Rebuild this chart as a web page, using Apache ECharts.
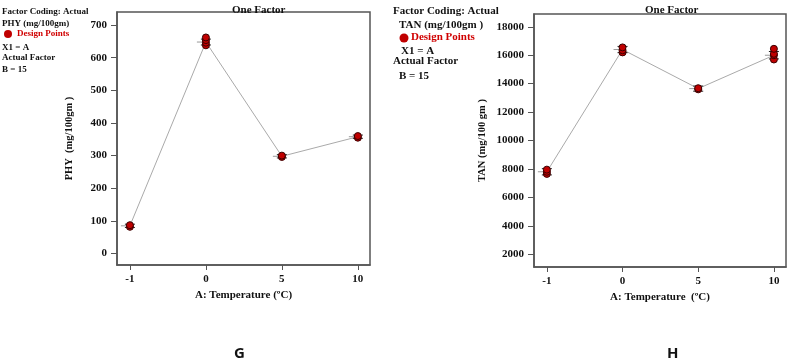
<!DOCTYPE html>
<html>
<head>
<meta charset="utf-8">
<script src="https://cdn.jsdelivr.net/npm/echarts@6/dist/echarts.min.js"></script>
<style>
  html, body { margin: 0; padding: 0; background: #fff; }
  #chart { width: 789px; height: 362px; }
</style>
</head>
<body>
<div id="chart"></div>
<script>
// categories on the x axis (temperature levels)
var categories = ['-1', '0', '5', '10'];

// PHY (mg/100gm) — means, LSD half widths and design points per level
var phyMean = [85, 648, 298, 358];
var phyErr = [5, 9, 5, 5];
var phyPoints = [[82, 87], [638, 646, 654, 662], [296, 300], [355, 360]];
var phyTicks = [0, 100, 200, 300, 400, 500, 600, 700];

// TAN (mg/100 gm) — means, LSD half widths and design points per level
var tanMean = [7800, 16400, 13650, 16000];
var tanErr = [220, 220, 180, 260];
var tanPoints = [[7650, 7800, 7950], [16200, 16350, 16550], [13600, 13680], [15700, 16000, 16100, 16450]];
var tanTicks = [2000, 4000, 6000, 8000, 10000, 12000, 14000, 16000, 18000];

var SERIF = '"Liberation Serif", "DejaVu Serif", serif';
var xIdx = categories.map(function (c, i) { return i; });

function pts(arr) {
    var out = [];
    arr.forEach(function (vals, i) {
        vals.forEach(function (v) { out.push([i, v]); });
    });
    return out;
}
function bars(mean, err) {
    return mean.map(function (m, i) { return [i, m - err[i], m + err[i], m]; });
}
function lineData(mean) {
    return mean.map(function (m, i) { return [i, m]; });
}

function errBar(params, api) {
    var lo = api.coord([api.value(0), api.value(1)]);
    var hi = api.coord([api.value(0), api.value(2)]);
    var mid = api.coord([api.value(0), api.value(3)]);
    var w = 5;
    var st = { stroke: '#222', lineWidth: 1 };
    return {
        type: 'group',
        children: [
            { type: 'line', shape: { x1: lo[0], y1: lo[1], x2: hi[0], y2: hi[1] }, style: st },
            { type: 'line', shape: { x1: lo[0] - w, y1: lo[1], x2: lo[0] + w, y2: lo[1] }, style: st },
            { type: 'line', shape: { x1: hi[0] - w, y1: hi[1], x2: hi[0] + w, y2: hi[1] }, style: st },
            { type: 'line', shape: { x1: mid[0] - w - 4, y1: mid[1], x2: mid[0] - 2, y2: mid[1] }, style: { stroke: '#999', lineWidth: 1 } }
        ]
    };
}

function xAxisCfg(gi) {
    return {
        gridIndex: gi,
        type: 'value',
        min: -0.17, max: 3.16,
        name: gi === 0 ? 'A: Temperature (ºC)' : 'A: Temperature  (ºC)',
        nameLocation: 'middle',
        nameGap: 25,
        nameTextStyle: { fontFamily: SERIF, fontWeight: 'bold', fontSize: 11, color: '#111' },
        axisLine: { onZero: false, lineStyle: { color: '#555', width: 1.5 } },
        axisTick: { show: true, length: 5, customValues: xIdx, lineStyle: { color: '#555' } },
        axisLabel: {
            customValues: xIdx, margin: 9,
            fontFamily: SERIF, fontWeight: 'bold', fontSize: 11, color: '#111',
            formatter: function (v) { return categories[Math.round(v)]; }
        },
        splitLine: { show: false }
    };
}

function yAxisCfg(gi, min, max, ticks, name, gap) {
    return {
        gridIndex: gi,
        type: 'value',
        min: min, max: max,
        name: name,
        nameLocation: 'middle',
        nameRotate: 90,
        nameGap: gap,
        nameTextStyle: { fontFamily: SERIF, fontWeight: 'bold', fontSize: 10.5, color: '#111' },
        axisLine: { show: true, onZero: false, lineStyle: { color: '#555', width: 1.5 } },
        axisTick: { show: true, length: 6, customValues: ticks, lineStyle: { color: '#555' } },
        axisLabel: {
            customValues: ticks, margin: 10, fontFamily: SERIF, fontWeight: 'bold', fontSize: 11, color: '#111',
            formatter: function (v) { return String(v); }
        },
        splitLine: { show: false }
    };
}

function seriesFor(gi, mean, err, points) {
    return [{
        type: 'line', xAxisIndex: gi, yAxisIndex: gi,
        data: lineData(mean), symbol: 'none',
        lineStyle: { color: '#aaa', width: 1 }, z: 2
    }, {
        type: 'custom', xAxisIndex: gi, yAxisIndex: gi,
        renderItem: errBar, data: bars(mean, err), z: 3
    }, {
        type: 'scatter', xAxisIndex: gi, yAxisIndex: gi,
        data: pts(points), symbolSize: 7,
        itemStyle: { color: '#c00000', borderColor: '#3a0000', borderWidth: 1, opacity: 1 }, z: 4
    }];
}

function txt(x, y, s, size, color) {
    return {
        type: 'text', left: x, top: y - size / 2 - 1,
        style: { text: s, fontFamily: SERIF, fontWeight: 'bold', fontSize: size, fill: color || '#111' }
    };
}

var chart = echarts.init(document.getElementById('chart'));
var option = {
    backgroundColor: '#fff',
    animation: false,
    title: [
        { text: 'One Factor', left: 227, top: 0, textStyle: { fontFamily: SERIF, fontWeight: 'bold', fontSize: 11, color: '#111' } },
        { text: 'One Factor', left: 640, top: 0, textStyle: { fontFamily: SERIF, fontWeight: 'bold', fontSize: 11, color: '#111' } }
    ],
    grid: [
        { left: 117, top: 12, width: 253, height: 253, show: true, borderColor: '#555', borderWidth: 1.5, backgroundColor: 'transparent' },
        { left: 534, top: 14, width: 252, height: 253, show: true, borderColor: '#555', borderWidth: 1.5, backgroundColor: 'transparent' }
    ],
    xAxis: [xAxisCfg(0), xAxisCfg(1)],
    yAxis: [
        yAxisCfg(0, -35, 740, phyTicks, 'PHY  (mg/100gm )', 42),
        yAxisCfg(1, 1100, 18900, tanTicks, 'TAN (mg/100 gm )', 46)
    ],
    series: seriesFor(0, phyMean, phyErr, phyPoints).concat(seriesFor(1, tanMean, tanErr, tanPoints)),
    graphic: [
        txt(2, 13, 'Factor Coding: Actual', 9),
        txt(2, 25, 'PHY (mg/100gm)', 9),
        { type: 'circle', shape: { cx: 8, cy: 34, r: 4 }, style: { fill: '#c00000' } },
        txt(17, 35, 'Design Points', 9, '#d00000'),
        txt(2, 49, 'X1 = A', 9),
        txt(2, 59, 'Actual Factor', 9),
        txt(2, 71, 'B = 15', 9),

        txt(393, 12, 'Factor Coding: Actual', 11),
        txt(399, 26, 'TAN (mg/100gm )', 11),
        { type: 'circle', shape: { cx: 404, cy: 38, r: 4.5 }, style: { fill: '#c00000' } },
        txt(411, 38, 'Design Points', 11, '#d00000'),
        txt(401, 52, 'X1 = A', 11),
        txt(393, 62, 'Actual Factor', 11),
        txt(399, 77, 'B = 15', 11),

        { type: 'text', left: 234, top: 346, style: { text: 'G', fontFamily: '"Open Sans", "Noto Sans", sans-serif', fontWeight: 'bold', fontSize: 15, fill: '#111' } },
        { type: 'text', left: 667, top: 346, style: { text: 'H', fontFamily: '"Open Sans", "Noto Sans", sans-serif', fontWeight: 'bold', fontSize: 15, fill: '#111' } }
    ]
};
chart.setOption(option);
window.addEventListener('resize', function () { chart.resize(); });
</script>
</body>
</html>
